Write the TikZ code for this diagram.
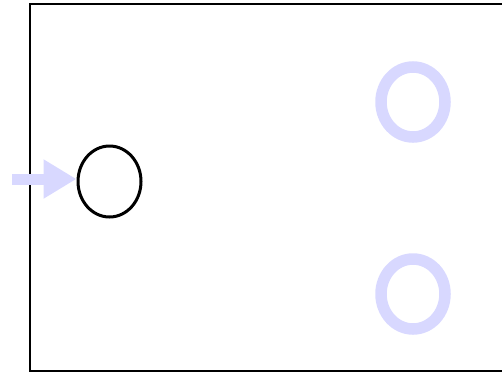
\documentclass[tikz,border=0pt]{standalone}
\usetikzlibrary{shapes.geometric,arrows.meta}
\definecolor{lav}{RGB}{216,216,255}
\tikzset{
  frame/.style={draw=black,line width=2pt},
  blackstate/.style={ellipse,draw=black,line width=3pt,minimum width=63pt,minimum height=71pt,inner sep=0pt},
  lavstate/.style={ellipse,draw=lav,line width=11.5pt,minimum width=64pt,minimum height=70pt,inner sep=0pt},
  entry/.style={draw=lav,line width=11pt,-{Triangle[length=33pt,width=37pt]}}
}
\begin{document}
\begin{tikzpicture}[x=1pt,y=-1pt]
\useasboundingbox (0,0) rectangle (502,373);
\clip (0,0) rectangle (502,373);
\draw[frame] (30,3.5) rectangle (540,371);
\node[blackstate] (s0) at (109.5,181.5) {};
\node[lavstate] (s1) at (413,102) {};
\node[lavstate] (s2) at (413,294) {};
\coordinate (start) at (12,179);
\draw[entry] (start) -- (start -| s0.west);
\end{tikzpicture}
\end{document}
